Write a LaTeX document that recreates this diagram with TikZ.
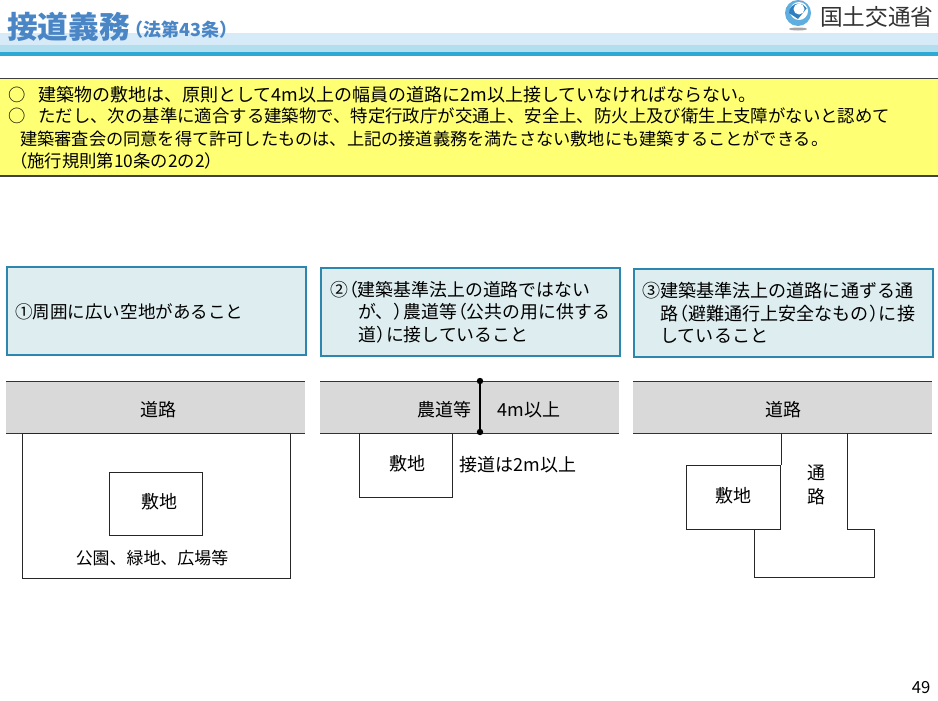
\documentclass[tikz,border=0pt]{standalone}
\usepackage{fontspec}
\setmainfont{Noto Sans CJK JP}
\usetikzlibrary{calc, positioning}
\definecolor{titleblue}{HTML}{4A86C5}
\definecolor{bandlight}{HTML}{D6EAF7}
\definecolor{bandmid}{HTML}{B2DEEE}
\definecolor{bandline}{HTML}{2EA9D6}
\definecolor{noteyellow}{HTML}{FFFF73}
\definecolor{casefill}{HTML}{DDEDF0}
\definecolor{caseline}{HTML}{2C86AE}
\definecolor{roadgrey}{HTML}{D9D9D9}
\definecolor{logoblue}{HTML}{5FAEE0}
\definecolor{logodeep}{HTML}{2F7FC0}
\tikzstyle{casebox} = [draw = caseline, fill = casefill, line width = 1.4, rectangle, minimum width = 224, minimum height = 66, anchor = north west]
\tikzstyle{casetext} = [anchor = west, align = left, font = \fontsize{13.4}{16.8}\selectfont, inner sep = 0pt]
\tikzstyle{road} = [fill = roadgrey, draw = none]
\tikzstyle{edge} = [line width = 0.7, black!80]
\tikzstyle{plot} = [draw, line width = 0.7, black!85]
\tikzstyle{plan} = [font = \fontsize{13.5}{18}\selectfont, inner sep = 0pt]
\tikzstyle{note} = [anchor = west, inner sep = 0pt, font = \fontsize{13}{15}\selectfont]
\newcommand{\lp}{\kern-.45em（}
\newcommand{\rp}{）\kern-.45em}
\begin{document}
\begin{tikzpicture}[x=0.75pt, y=-0.75pt]
	\useasboundingbox (0,0) rectangle (938,700);

	% Header
	\fill[bandlight] (0,33) rectangle (938,45);
	\fill[bandmid] (0,45) rectangle (938,52);
	\fill[bandline] (0,52) rectangle (938,56);
	\node (title) [anchor = west, inner sep = 0pt, text = titleblue, font = \fontsize{23}{23}\selectfont\bfseries] at (7,27) {接道義務};
	\node (law) [anchor = west, inner sep = 0pt, text = titleblue, font = \fontsize{13.5}{14}\selectfont\bfseries] at (125,30) {（法第43条）};

	% Logo
	\fill[black!35] (798,29) ellipse (9 and 1.5);
	\fill[logoblue] (798,13) circle (13);
	\fill[white] (799,11) circle (9);
	\fill[logodeep] (789,13) arc (180:330:9.5) -- (798,19) -- cycle;
	\fill[white] (799,9) circle (5.5);
	\fill[red!70] (798,0) -- (803,0) arc (0:-90:3 and 7) -- cycle;
	\node (ministry) [anchor = west, inner sep = 0pt, text = black!80, font = \fontsize{17}{17}\selectfont] at (820,17) {国土交通省};

	% Yellow note
	\node (notebox) [draw = black!75, fill = noteyellow, line width = 0.9, rectangle, minimum width = 706, minimum height = 73, anchor = north west] at (-1,78) {};
	\node (marka) [note] at (8,95) {○};
	\node (linea) [note, font = \fontsize{13.5}{15}\selectfont] at (38,95) {建築物の敷地は、原則として4m以上の幅員の道路に2m以上接していなければならない。};
	\node (markb) [note] at (8,116) {○};
	\node (lineb) [note, font = \fontsize{13.05}{15}\selectfont] at (38,116) {ただし、次の基準に適合する建築物で、特定行政庁が交通上、安全上、防火上及び衛生上支障がないと認めて};
	\node (linec) [note, font = \fontsize{12.9}{15}\selectfont] at (20,139) {建築審査会の同意を得て許可したものは、上記の接道義務を満たさない敷地にも建築することができる。};
	\node (lined) [note] at (10,161) {（施行規則第10条の2の2）};

	% Cases
	\node (casea) [casebox] at (6,266) {};
	\node (caseb) [casebox] at (320,267) {};
	\node (casec) [casebox] at (633,268) {};
	\node (texta) [casetext, font = \fontsize{13.15}{16.8}\selectfont] at (15,312) {①周囲に広い空地があること};
	\node (textb) [casetext] at (330,312) {②\lp 建築基準法上の道路ではない\\\hspace*{1.57em}が、\rp 農道等\lp 公共の用に供する\\\hspace*{1.57em}道\rp に接していること};
	\node (textc) [casetext, font = \fontsize{13.55}{16.8}\selectfont] at (642,313) {③建築基準法上の道路に通ずる通\\\hspace*{1em}路\lp 避難通行上安全なもの\rp に接\\\hspace*{1em}していること};

	% Roads
	\foreach \x/\w in {6/299,320/299,633/299}
	{
		\fill[road] (\x,381) rectangle ++(\w,52);
		\draw[edge] (\x,381) -- ++(\w,0);
		\draw[edge] (\x,433) -- ++(\w,0);
	}

	% Left plan
	\node (parka) [plot, rectangle, minimum width = 201, minimum height = 108.5, anchor = north west] at (22,433) {};
	\node (sitea) [plot, rectangle, minimum width = 70, minimum height = 47, anchor = north west] at (109,472) {};
	\node (namea) [plan] at (159,502) {敷地};
	\node (roada) [plan] at (158,410) {道路};
	\node (parklabel) [plan, font = \fontsize{12.7}{13}\selectfont] at (152,558) {公園、緑地、広場等};

	% Middle plan
	\node (siteb) [plot, rectangle, minimum width = 70, minimum height = 48, anchor = north west] at (359,433) {};
	\node (nameb) [plan] at (407,464) {敷地};
	\node (roadb) [plan] at (444,410) {農道等};
	\node (widthb) [plan] at (529,410) {4m以上};
	\node (contact) [plan] at (518,465) {接道は2m以上};
	\coordinate (top) at (480,381);
	\coordinate (bottom) at (480,432);
	\draw[line width = 0.8, black] (top) -- (bottom);
	\fill (top) circle (3.2);
	\fill (bottom) circle (3.2);

	% Right plan
	\draw[plot] (781,433) -- (781,465);
	\draw[plot] (847,433) -- (847,529) -- (874,529) -- (874,577) -- (754,577) -- (754,529);
	\node (sitec) [plot, rectangle, minimum width = 70.5, minimum height = 48, anchor = north west] at (686,465) {};
	\node (namec) [plan] at (733,496) {敷地};
	\node (roadc) [plan] at (783,410) {道路};
	\node (lane) [plan, align = center] at (816,485) {通\\路};

	% Page number
	\node (page) [inner sep = 0pt, font = \fontsize{12.5}{14}\selectfont] at (921,688) {49};
\end{tikzpicture}
\end{document}
